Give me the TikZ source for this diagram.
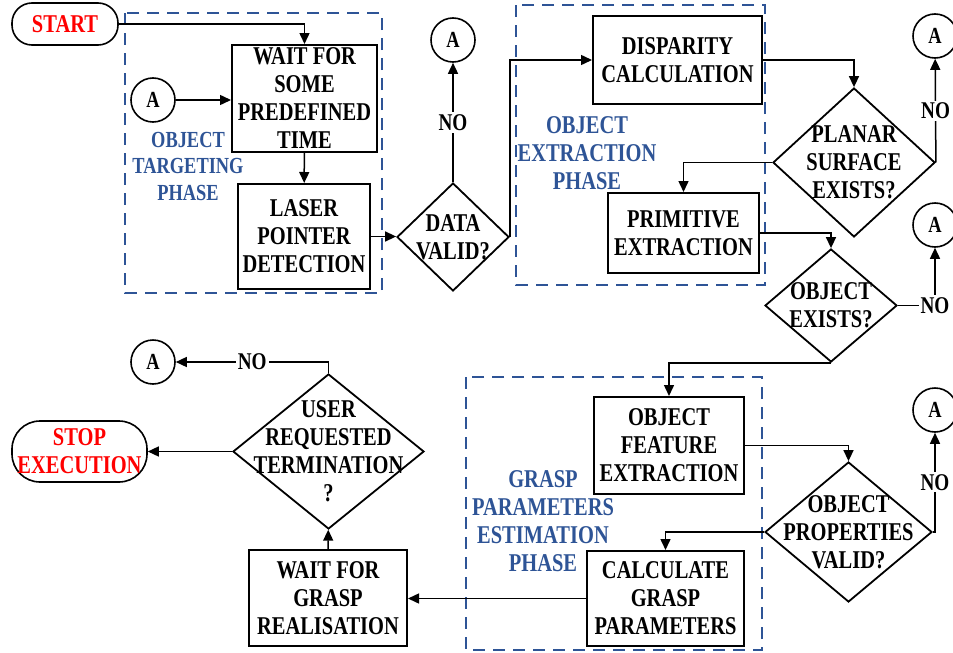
\documentclass[tikz,border=0pt]{standalone}
\usepackage{fontspec}
\setmainfont{Liberation Serif}[FakeStretch=0.8]
\usetikzlibrary{shapes.geometric,arrows.meta}
\definecolor{phaseblue}{RGB}{46,84,150}
\newcommand{\boxfont}{\fontsize{12.8}{14}\selectfont\bfseries}
\newcommand{\smallboxfont}{\fontsize{11.5}{13.25}\selectfont\bfseries}
\newcommand{\nofont}{\fontsize{12}{14}\selectfont\bfseries}
\newcommand{\afont}{\fontsize{11.5}{12}\selectfont\bfseries}

\begin{document}
\begin{tikzpicture}[x=0.5pt,y=-0.5pt,
  proc/.style={draw, line width=1pt, inner sep=0pt, align=center, font=\boxfont},
  decision/.style={draw, diamond, line width=0.9pt, inner sep=0pt},
  dtext/.style={align=center, font=\boxfont},
  conn/.style={draw, circle, line width=0.8pt, minimum size=22pt, inner sep=0pt, font=\afont},
  terminal/.style={draw, rounded corners=#1, line width=0.8pt, inner sep=0pt, align=center, font=\boxfont, text=red},
  phase/.style={draw=phaseblue, dash pattern=on 6pt off 4pt, line width=0.8pt},
  phaselabel/.style={text=phaseblue, align=center, font=\boxfont},
  flow/.style={line width=0.75pt, -{Triangle[length=5.5pt,width=5pt]}},
  nolabel/.style={fill=white, inner sep=1pt, font=\nofont}]
\clip (0,0) rectangle (953,653);

% phase frames
\draw[phase] (125,13) rectangle (382,293);
\draw[phase] (516,5) rectangle (765,285);
\draw[phase] (466,377) rectangle (762,650);

\node[phaselabel, font=\smallboxfont] (tgl) at (188,166) {OBJECT\\TARGETING\\PHASE};
\node[phaselabel] (exl) at (587,153) {OBJECT\\EXTRACTION\\PHASE};
\node[phaselabel] (gpl) at (543,521) {GRASP\\PARAMETERS\\ESTIMATION\\PHASE};

% start / stop
\node[terminal=10pt, minimum width=53pt, minimum height=21pt] (st) at (65,24) {START};
\node[terminal=14pt, minimum width=67.5pt, minimum height=30.5pt] (se) at (79.5,451.5) {STOP\\EXECUTION};

% process boxes
\node[proc, minimum width=72.5pt, minimum height=53.5pt] (wt) at (304.5,98.5) {WAIT FOR\\SOME\\PREDEFINED\\TIME};
\node[proc, minimum width=66pt, minimum height=52.5pt] (lp) at (304,236.5) {LASER\\POINTER\\DETECTION};
\node[proc, minimum width=84.5pt, minimum height=44pt] (dc) at (677.5,60) {DISPARITY\\CALCULATION};
\node[proc, minimum width=75.5pt, minimum height=40pt] (pe) at (683.5,233) {PRIMITIVE\\EXTRACTION};
\node[proc, minimum width=75pt, minimum height=48.5pt] (of) at (669,445.5) {OBJECT\\FEATURE\\EXTRACTION};
\node[proc, minimum width=78.5pt, minimum height=47.5pt] (cg) at (665.5,598.5) {CALCULATE\\GRASP\\PARAMETERS};
\node[proc, minimum width=79pt, minimum height=48pt] (wg) at (328,598) {WAIT FOR\\GRASP\\REALISATION};

% decisions
\node[decision, minimum width=56pt, minimum height=54pt,
  label={[dtext]center:DATA\\VALID?}] (dv) at (453,237) {};
\node[decision, minimum width=81pt, minimum height=74.5pt,
  label={[dtext]center:PLANAR\\SURFACE\\EXISTS?}] (ps) at (854,162.5) {};
\node[decision, minimum width=66pt, minimum height=56.5pt,
  label={[dtext]center:OBJECT\\EXISTS?}] (oe) at (831,305.5) {};
\node[decision, minimum width=83.5pt, minimum height=70pt,
  label={[dtext]center:OBJECT\\PROPERTIES\\VALID?}] (op) at (848.5,532) {};
\node[decision, minimum width=95.5pt, minimum height=77.5pt,
  label={[dtext]center:USER\\REQUESTED\\TERMINATION\\?}] (ut) at (328.5,451.5) {};

% connectors A
\node[conn] (a1) at (153,100) {A};
\node[conn] (a2) at (453,40) {A};
\node[conn] (a3) at (935,36) {A};
\node[conn] (a4) at (935,225) {A};
\node[conn] (a5) at (935,410) {A};
\node[conn] (a6) at (153,362) {A};

% flow lines
\draw[flow] (st.east) -| (wt.north);
\draw[flow] (a1) -- (a1 -| wt.west);
\draw[flow] (wt) -- (lp);
\draw[flow] (lp.east) -- (lp.east -| dv.west);
\draw[flow] (dv.north) -- node[nolabel]{NO} (a2);
\draw[flow] (dv.east) -- (dv.east |- dc.west) -- (dc.west);
\draw[flow] (dc.east) -| (ps.north);
\draw[flow] (ps.east) -- node[nolabel]{NO} (a3);
\draw[flow] (ps.west) -| (pe.north);
\draw[flow] (pe.east) -| (oe.north);
\draw[flow] (oe.east) -| node[nolabel, pos=.5]{NO} (a4);
\draw[flow] (oe.south) -| (of.north);
\draw[flow] (of.east) -| (op.north);
\draw[flow] (op.east) -| node[nolabel, pos=.75]{NO} (a5);
\draw[flow] (op.west) -| (cg.north);
\draw[flow] (cg.west) -- (cg.west -| wg.east);
\draw[flow] (wg) -- (ut);
\draw[flow] (ut.west) -- (ut.west -| se.east);
\draw[flow] (ut.north) |- node[nolabel, pos=.75]{NO} (a6);

\end{tikzpicture}
\end{document}
